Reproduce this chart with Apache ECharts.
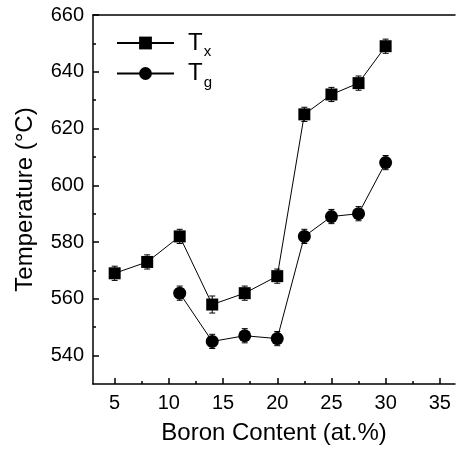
<!DOCTYPE html>
<html>
<head>
<meta charset="utf-8">
<script src="https://cdn.jsdelivr.net/npm/echarts@6/dist/echarts.min.js"></script>
<style>
  html, body { margin: 0; padding: 0; background: #fff; }
  #chart { width: 457px; height: 450px; }
</style>
</head>
<body>
<div id="chart"></div>
<script>
// Tx: crystallisation temperature, Tg: glass transition
const boronX = [5, 8, 11, 14, 17, 20, 22.5, 25, 27.5, 30]
const tx = [569, 573, 582, 558, 562, 568, 625, 632, 636, 649]
const txErr = [2.5, 2.5, 2.5, 3, 2.5, 2.5, 2.5, 2.5, 2.5, 2.5]
const boronG = [11, 14, 17, 20, 22.5, 25, 27.5, 30]
const tg = [562, 545, 547, 546, 582, 589, 590, 608]
const tgErr = [2.5, 2.5, 2.5, 2.5, 2.5, 2.5, 2.5, 2.5]

const xMajor = [5, 10, 15, 20, 25, 30, 35]
const xMinor = [7.5, 12.5, 17.5, 22.5, 27.5, 32.5]
const yMajor = [540, 560, 580, 600, 620, 640, 660]
const yMinor = [550, 570, 590, 610, 630, 650]

const font = 'Liberation Sans, Arial, sans-serif'
const chart = echarts.init(document.getElementById('chart'))

function zip(xs, ys) { return xs.map((x, i) => [x, ys[i]]) }
function zip3(xs, ys, es) { return xs.map((x, i) => [x, ys[i], es[i]]) }

function errorBar(params, api) {
  const x = api.value(0), y = api.value(1), e = api.value(2)
  const hi = api.coord([x, y + e])
  const lo = api.coord([x, y - e])
  const w = 3
  const st = { stroke: '#000', lineWidth: 1 }
  return {
    type: 'group',
    children: [
      { type: 'line', shape: { x1: hi[0], y1: hi[1], x2: lo[0], y2: lo[1] }, style: st },
      { type: 'line', shape: { x1: hi[0] - w, y1: hi[1], x2: hi[0] + w, y2: hi[1] }, style: st },
      { type: 'line', shape: { x1: lo[0] - w, y1: lo[1], x2: lo[0] + w, y2: lo[1] }, style: st }
    ]
  }
}

const baseX = { type: 'value', min: 3, max: 36.4, splitLine: { show: false } }
const baseY = { type: 'value', min: 530, max: 660, splitLine: { show: false } }

chart.setOption({
  animation: false,
  grid: { left: 93, right: 2, top: 15, bottom: 65 },
  legend: {
    left: 111, top: 26, orient: 'vertical',
    itemWidth: 57, itemHeight: 16, itemGap: 2,
    data: ['Tx', 'Tg'],
    formatter: name => '{t|T}{s|' + name.slice(1) + '}',
    textStyle: {
      padding: [0, 0, 0, 9],
      rich: {
        t: { fontFamily: font, fontSize: 24, color: '#000' },
        s: { fontFamily: font, fontSize: 15, color: '#000', padding: [18, 0, 0, 1] }
      }
    }
  },
  xAxis: [
    Object.assign({}, baseX, {
      position: 'bottom',
      name: 'Boron Content (at.%)', nameLocation: 'middle', nameGap: 37,
      nameTextStyle: { fontFamily: font, fontSize: 24, color: '#000' },
      axisLine: { lineStyle: { color: '#000', width: 1.5 } },
      axisTick: { inside: true, length: 6, customValues: xMajor, lineStyle: { color: '#000', width: 1.5 } },
      axisLabel: { customValues: xMajor, margin: 9, fontFamily: font, fontSize: 20, color: '#000' }
    }),
    Object.assign({}, baseX, {
      position: 'bottom',
      axisLine: { show: false },
      axisTick: { inside: true, length: 3, customValues: xMinor, lineStyle: { color: '#000', width: 1.5 } },
      axisLabel: { show: false }
    }),
    Object.assign({}, baseX, {
      position: 'top',
      axisLine: { lineStyle: { color: '#000', width: 1.5 } },
      axisTick: { show: false },
      axisLabel: { show: false }
    })
  ],
  yAxis: [
    Object.assign({}, baseY, {
      position: 'left',
      name: 'Temperature (\u00b0C)', nameLocation: 'middle', nameGap: 56,
      nameTextStyle: { fontFamily: font, fontSize: 24, color: '#000' },
      axisLine: { lineStyle: { color: '#000', width: 1.5 } },
      axisTick: { inside: true, length: 6, customValues: yMajor, lineStyle: { color: '#000', width: 1.5 } },
      axisLabel: { customValues: yMajor, margin: 9, fontFamily: font, fontSize: 20, color: '#000' }
    }),
    Object.assign({}, baseY, {
      position: 'left',
      axisLine: { show: false },
      axisTick: { inside: true, length: 3, customValues: yMinor, lineStyle: { color: '#000', width: 1.5 } },
      axisLabel: { show: false }
    })
  ],
  series: [
    {
      name: 'Tx', type: 'line', data: zip(boronX, tx),
      symbol: 'rect', symbolSize: 12,
      itemStyle: { color: '#000' }, lineStyle: { color: '#000', width: 1 }, z: 3
    },
    {
      name: 'Tg', type: 'line', data: zip(boronG, tg),
      symbol: 'circle', symbolSize: 13,
      itemStyle: { color: '#000' }, lineStyle: { color: '#000', width: 1 }, z: 3
    },
    { type: 'custom', renderItem: errorBar, data: zip3(boronX, tx, txErr), z: 2 },
    { type: 'custom', renderItem: errorBar, data: zip3(boronG, tg, tgErr), z: 2 }
  ]
})
</script>
</body>
</html>
